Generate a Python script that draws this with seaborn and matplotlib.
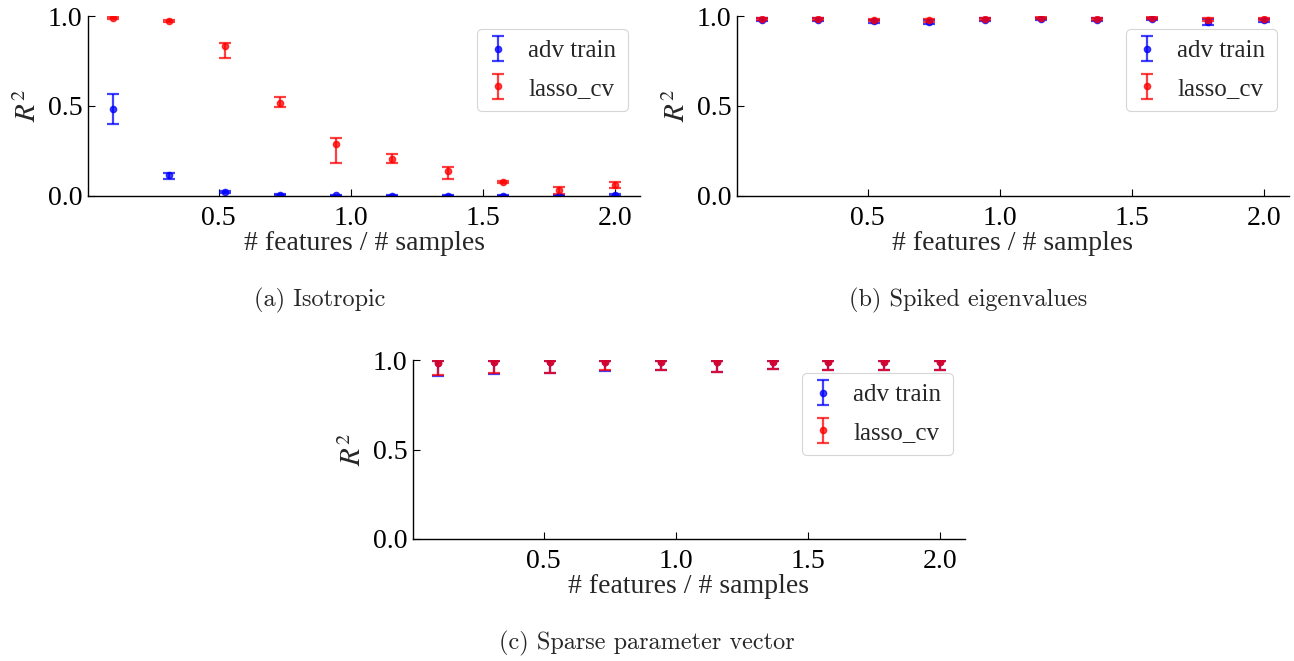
import numpy as np
import pandas as pd
import matplotlib
matplotlib.use("Agg")
import matplotlib.pyplot as plt
import seaborn as sns

# ratio of number of features to number of samples
ratio = np.linspace(0.1, 2.0, 10)

# (a) isotropic covariance: mean R^2 with lower / upper error bar ends
iso_adv_mean = [0.482, 0.114, 0.020, 0.005, 0.002, 0.000, 0.000, 0.000, 0.000, 0.002]
iso_adv_low = [0.401, 0.090, 0.014, 0.001, 0.000, -0.002, -0.002, -0.002, -0.002, -0.002]
iso_adv_high = [0.566, 0.126, 0.026, 0.009, 0.004, 0.002, 0.002, 0.002, 0.002, 0.006]
iso_lasso_mean = [0.987, 0.972, 0.832, 0.518, 0.288, 0.201, 0.138, 0.074, 0.030, 0.059]
iso_lasso_low = [0.982, 0.966, 0.767, 0.492, 0.183, 0.179, 0.094, 0.067, 0.011, 0.041]
iso_lasso_high = [0.992, 0.978, 0.852, 0.547, 0.323, 0.231, 0.159, 0.080, 0.048, 0.074]

# (b) spiked eigenvalues
spk_adv_mean = [0.980, 0.980, 0.970, 0.965, 0.980, 0.985, 0.980, 0.985, 0.968, 0.975]
spk_adv_low = [0.972, 0.972, 0.962, 0.955, 0.973, 0.980, 0.973, 0.980, 0.952, 0.966]
spk_adv_high = [0.988, 0.988, 0.978, 0.975, 0.987, 0.990, 0.987, 0.990, 0.984, 0.984]
spk_lasso_mean = [0.985, 0.985, 0.978, 0.975, 0.985, 0.990, 0.985, 0.990, 0.980, 0.983]
spk_lasso_low = [0.980, 0.980, 0.972, 0.968, 0.980, 0.986, 0.980, 0.986, 0.970, 0.977]
spk_lasso_high = [0.990, 0.990, 0.984, 0.982, 0.990, 0.994, 0.990, 0.994, 0.990, 0.989]

# (c) sparse parameter vector
spr_adv_mean = [0.984, 0.988, 0.988, 0.988, 0.988, 0.988, 0.988, 0.988, 0.988, 0.988]
spr_adv_low = [0.912, 0.924, 0.928, 0.940, 0.944, 0.932, 0.950, 0.946, 0.944, 0.946]
spr_adv_high = [0.994, 0.995, 0.995, 0.995, 0.995, 0.995, 0.995, 0.995, 0.995, 0.995]
spr_lasso_mean = [0.985, 0.989, 0.989, 0.989, 0.989, 0.989, 0.989, 0.989, 0.989, 0.989]
spr_lasso_low = [0.915, 0.926, 0.930, 0.942, 0.944, 0.933, 0.950, 0.946, 0.944, 0.946]
spr_lasso_high = [0.994, 0.995, 0.995, 0.995, 0.995, 0.995, 0.995, 0.995, 0.995, 0.995]

methods = ["adv train", "lasso_cv"]
method_colors = {"adv train": "blue", "lasso_cv": "red"}
captions = ["(a) Isotropic", "(b) Spiked eigenvalues", "(c) Sparse parameter vector"]

panels = [
    {"adv train": (iso_adv_mean, iso_adv_low, iso_adv_high),
     "lasso_cv": (iso_lasso_mean, iso_lasso_low, iso_lasso_high)},
    {"adv train": (spk_adv_mean, spk_adv_low, spk_adv_high),
     "lasso_cv": (spk_lasso_mean, spk_lasso_low, spk_lasso_high)},
    {"adv train": (spr_adv_mean, spr_adv_low, spr_adv_high),
     "lasso_cv": (spr_lasso_mean, spr_lasso_low, spr_lasso_high)},
]

sns.set_theme(style="ticks")
plt.rcParams["font.family"] = ["Liberation Serif", "DejaVu Serif"]
plt.rcParams["mathtext.fontset"] = "stix"
plt.rcParams["xtick.direction"] = "in"
plt.rcParams["ytick.direction"] = "in"

W, H = 1294, 661
fig = plt.figure(figsize=(W / 100, H / 100), dpi=100)
fig.patch.set_facecolor("white")


def px_axes(left, top, width, height):
    return fig.add_axes([left / W, (H - top - height) / H, width / W, height / H])


axes = [
    px_axes(88, 16, 552, 179.5),
    px_axes(737, 16, 552, 179.5),
    px_axes(413, 360, 552, 179),
]

for ax, data in zip(axes, panels):
    ax.set_facecolor("white")
    for m in methods:
        mean, low, high = (np.asarray(v) for v in data[m])
        df = pd.DataFrame({"ratio": ratio, "r2": mean, "lo": low, "hi": high})
        yerr = np.vstack([df["r2"] - df["lo"], df["hi"] - df["r2"]])
        ax.errorbar(df["ratio"], df["r2"], yerr=yerr, fmt="o", color=method_colors[m],
                    alpha=0.75, markersize=4.5, capsize=4, elinewidth=1.6,
                    capthick=1.6, label=m)
    ax.set_ylim(0, 1.0)
    ax.set_xticks([0.5, 1.0, 1.5, 2.0])
    ax.set_yticks([0.0, 0.5, 1.0])
    ax.tick_params(labelsize=20, length=5, width=0.8, colors="black")
    ax.tick_params(axis="x", pad=7.5)
    ax.tick_params(axis="y", pad=4)
    ax.set_xlabel("# features / # samples", fontsize=20, labelpad=0)
    ax.set_ylabel("$R^2$", fontsize=21, labelpad=4)
    sns.despine(ax=ax)
    for s in ("left", "bottom"):
        ax.spines[s].set_linewidth(1.0)
        ax.spines[s].set_color("black")
    leg = ax.legend(loc="upper right", fontsize=18, frameon=True, fancybox=True,
                    handlelength=0.8, handletextpad=0.8, borderpad=0.45,
                    labelspacing=0.6)
    leg.get_frame().set_edgecolor("#cccccc")
    leg.get_frame().set_linewidth(0.8)

fig.text(320 / W, 1 - 300 / H, captions[0], fontsize=17.5, family="cmr10",
         ha="center", va="center")
fig.text(968 / W, 1 - 300 / H, captions[1], fontsize=17.5, family="cmr10",
         ha="center", va="center")
fig.text(647 / W, 1 - 643 / H, captions[2], fontsize=17.5, family="cmr10",
         ha="center", va="center")

fig.savefig("out.png", dpi=100, facecolor="white")
